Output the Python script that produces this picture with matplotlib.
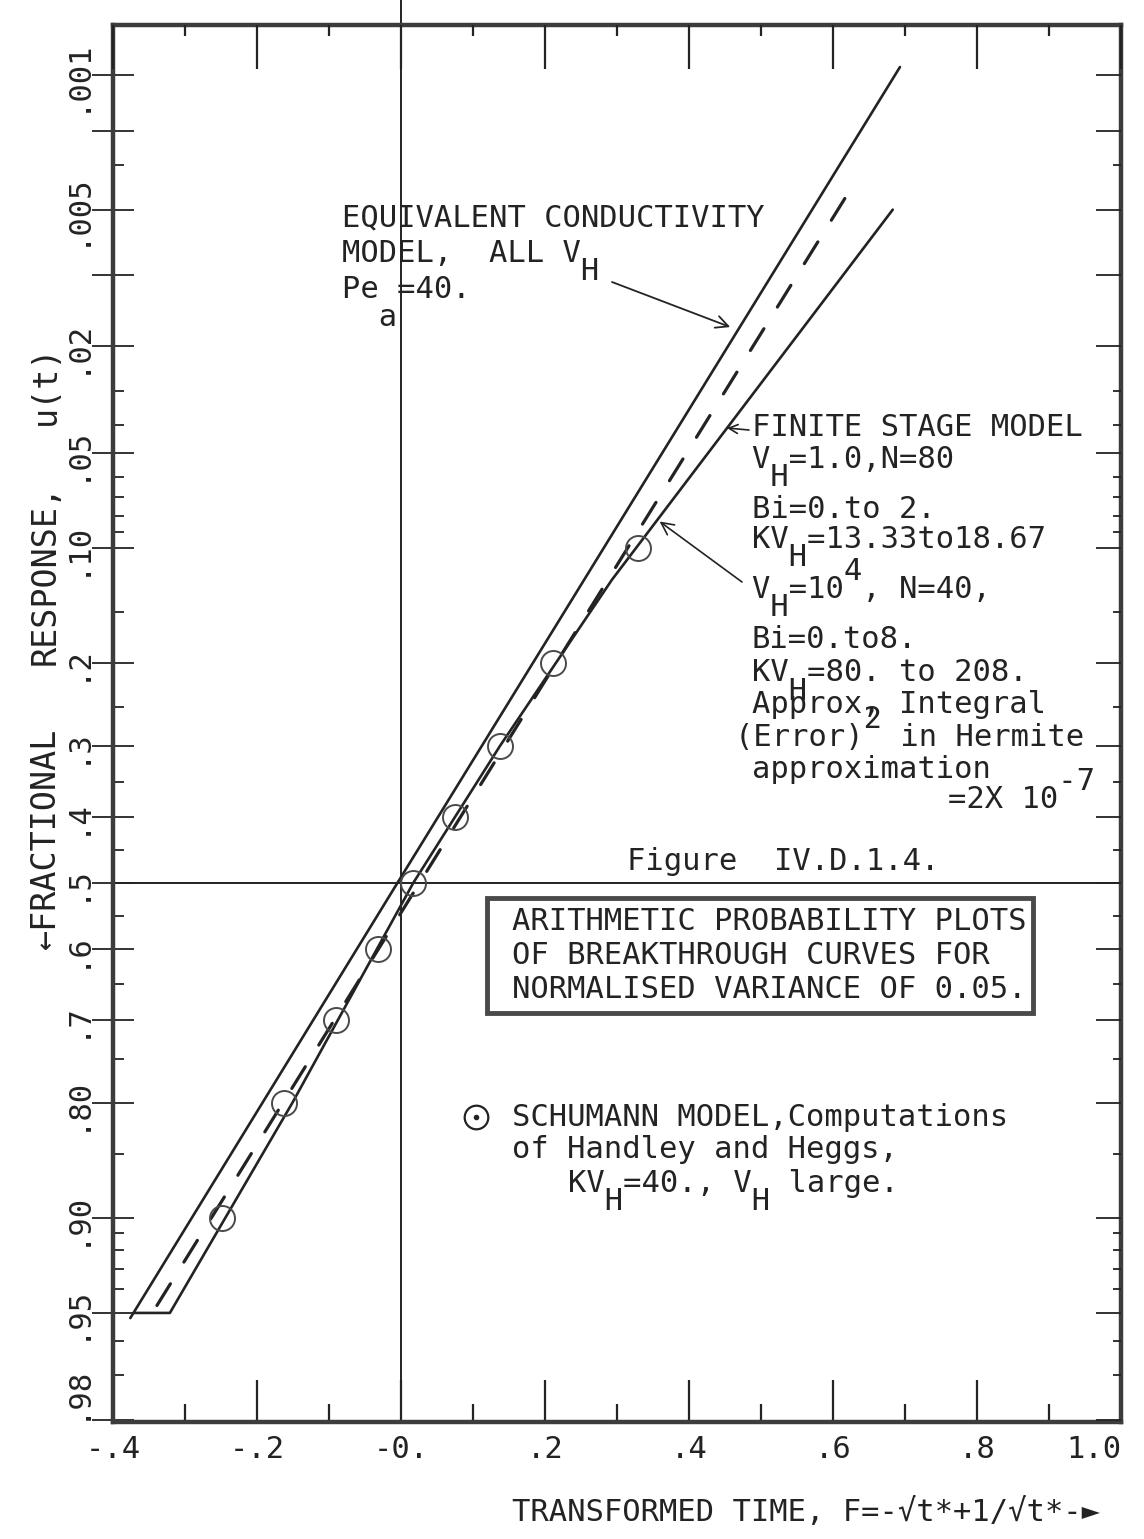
import numpy as np
import matplotlib
matplotlib.use('Agg')
import matplotlib.pyplot as plt
from matplotlib.patches import Rectangle
from statistics import NormalDist

plt.rcParams['font.family'] = ['DejaVu Sans Mono', 'DejaVu Sans']

W, H = 1144, 1539
INK = '#232323'
FS = 22

# equivalent conductivity model, all V_H, Pe_a = 40
cond_x = [-0.376, -0.005, 0.693]
cond_u = [0.952, 0.50, 0.0009]

# finite stage model, V_H = 10^4, N = 40 (short step along u = .95 at the start)
stage_x = [-0.37, -0.321, -0.151, 0.017, 0.1375, 0.293, 0.683]
stage_u = [0.95, 0.95, 0.80, 0.50, 0.30, 0.123, 0.005]

# finite stage model, V_H = 1.0, N = 80 (dashed)
stage80_x = [-0.339, 0.624]
stage80_u = [0.947, 0.004]

# Schumann model, computations of Handley and Heggs
schu_x = [-0.249, -0.1625, -0.090, -0.032, 0.017, 0.075, 0.1375, 0.211, 0.329]
schu_u = [0.90, 0.80, 0.70, 0.60, 0.50, 0.40, 0.30, 0.20, 0.10]

xticks = [-0.4, -0.2, 0.0, 0.2, 0.4, 0.6, 0.8, 1.0]
xtick_labels = ['-.4', '-.2', '-0.', '.2', '.4', '.6', '.8', '1.0']
xminor = [-0.3, -0.1, 0.1, 0.3, 0.5, 0.7, 0.9]

uticks = [0.001, 0.002, 0.005, 0.01, 0.02, 0.05, 0.10, 0.2, 0.3, 0.4,
          0.5, 0.6, 0.7, 0.80, 0.90, 0.95, 0.98]
utick_labels = ['.001', '', '.005', '', '.02', '.05', '.10', '.2', '.3', '.4',
                '.5', '.6', '.7', '.80', '.90', '.95', '.98']
uminor = [0.003, 0.03, 0.04, 0.06, 0.07, 0.08, 0.09, 0.15, 0.25, 0.35, 0.45,
          0.55, 0.65, 0.75, 0.85, 0.91, 0.92, 0.93, 0.94, 0.96, 0.97]

_nd = NormalDist()
_ppf = np.vectorize(_nd.inv_cdf, otypes=[float])
_cdf = np.vectorize(_nd.cdf, otypes=[float])


def probit(p):
    p = np.clip(np.asarray(p, dtype=float), 1e-12, 1 - 1e-12)
    return _ppf(p)


def inv_probit(z):
    return _cdf(np.asarray(z, dtype=float))


def on_line(xs, us, u):
    # point on a probability-paper curve at response u
    z = probit(us)[::-1]
    return float(np.interp(probit(u), z, np.asarray(xs)[::-1])), u


def px(x, y):
    return x / W, 1 - y / H


fig = plt.figure(figsize=(W / 100, H / 100), dpi=100)
fig.patch.set_facecolor('white')

ax = fig.add_axes([113 / W, 1 - 1422 / H, (1121 - 113) / W, (1422 - 25) / H])
ax.set_yscale('function', functions=(probit, inv_probit))
ax.set_xlim(-0.4, 1.0)
ax.set_ylim(0.9804, 0.000515)

axr = ax.twinx()
axr.set_yscale('function', functions=(probit, inv_probit))
axr.set_ylim(ax.get_ylim())
axt = ax.twiny()
axt.set_xlim(ax.get_xlim())

# probability paper rulings
ax.set_xticks(xticks)
ax.set_xticklabels(xtick_labels)
ax.set_xticks(xminor, minor=True)
ax.set_yticks(uticks)
ax.set_yticklabels(utick_labels, rotation=90, va='center')
ax.set_yticks(uminor, minor=True)
ax.get_xticklabels()[-1].set_ha('right')
ax.get_yticklabels()[-1].set_va('bottom')
ax.tick_params(axis='x', which='major', direction='in', length=30, width=1.6,
               pad=9, labelsize=FS, colors=INK)
ax.tick_params(axis='x', which='minor', direction='in', length=13, width=1.6, colors=INK)
ax.tick_params(axis='y', which='major', direction='inout', length=30, width=1.3,
               pad=1, labelsize=FS, colors=INK)
ax.tick_params(axis='y', which='minor', direction='in', length=8, width=1.3, colors=INK)

axr.set_yticks(uticks)
axr.set_yticklabels([])
axr.set_yticks(uminor, minor=True)
axr.tick_params(which='major', direction='in', length=18, width=1.3, colors=INK)
axr.tick_params(which='minor', direction='in', length=6, width=1.3, colors=INK)

axt.set_xticks(xticks)
axt.set_xticklabels([])
axt.set_xticks(xminor, minor=True)
axt.tick_params(which='major', direction='in', length=32, width=1.6, colors=INK)
axt.tick_params(which='minor', direction='in', length=8, width=1.6, colors=INK)

for a in (axr, axt):
    for s in a.spines.values():
        s.set_visible(False)
for s in ax.spines.values():
    s.set_linewidth(3.2)
    s.set_color('#3c3c3c')

# reference lines through F = 0 and u = .5
ax.axhline(0.5, color=INK, lw=1.4, zorder=1)
ax.plot([0, 0], [0, 1.018], transform=ax.get_xaxis_transform(), color=INK,
        lw=1.4, clip_on=False, zorder=1)

# model curves
ax.plot(cond_x, cond_u, color=INK, lw=1.9, solid_capstyle='round', zorder=3)
ax.plot(stage_x, stage_u, color=INK, lw=1.9, solid_capstyle='round',
        solid_joinstyle='round', zorder=3)
ax.plot(stage80_x, stage80_u, color=INK, lw=2.3, linestyle=(0, (8, 8)),
        dash_capstyle='round', zorder=3)
ax.plot(schu_x, schu_u, 'o', ms=18, mfc='none', mec='#4a4a4a', mew=1.4, zorder=4)


def typed(x, y, line, sub='', sup='', dsub=18, dsup=18, size=FS):
    kw = dict(ha='left', va='center', fontsize=size, color=INK)
    fig.text(*px(x, y), line, **kw)
    if sub:
        fig.text(*px(x, y + dsub), sub, **kw)
    if sup:
        fig.text(*px(x, y - dsup), sup, **kw)


# equivalent conductivity note
typed(342, 218, 'EQUIVALENT CONDUCTIVITY')
typed(342, 253, 'MODEL,  ALL V', sub='             H')
typed(342, 290, 'Pe =40.', sub='  a', dsub=27)
ax.annotate('', xy=on_line(cond_x, cond_u, 0.0172), xycoords='data',
            xytext=px(612, 282), textcoords='figure fraction',
            arrowprops=dict(arrowstyle='->', color=INK, lw=1.3, shrinkA=0,
                            shrinkB=6, mutation_scale=22))

# finite stage notes
typed(752, 428, 'FINITE STAGE MODEL')
typed(752, 460, 'V =1.0,N=80', sub=' H')
typed(752, 510, 'Bi=0.to 2.')
typed(752, 540, 'KV =13.33to18.67', sub='  H')
typed(752, 590, 'V =10 , N=40,', sub=' H', sup='     4')
typed(752, 640, 'Bi=0.to8.')
typed(752, 673, 'KV =80. to 208.', sub='  H')
typed(752, 705, 'Approx, Integral')
typed(735, 738, '(Error)  in Hermite', sup='       2')
typed(752, 770, 'approximation')
typed(948, 800, '=2X 10', sup='      -7')
ax.annotate('', xy=on_line(stage_x[3:], stage_u[3:], 0.0409), xycoords='data',
            xytext=px(749, 430), textcoords='figure fraction',
            arrowprops=dict(arrowstyle='->', color=INK, lw=1.2, shrinkA=0,
                            shrinkB=0, mutation_scale=16))
ax.annotate('', xy=on_line(stage_x[3:], stage_u[3:], 0.0824), xycoords='data',
            xytext=px(742, 582), textcoords='figure fraction',
            arrowprops=dict(arrowstyle='->', color=INK, lw=1.2, shrinkA=0,
                            shrinkB=2, mutation_scale=22))

# caption and boxed title
typed(627, 862, 'Figure  IV.D.1.4.')
fig.add_artist(Rectangle(px(487, 1013), (1033 - 487) / W, (1013 - 898) / H,
                         transform=fig.transFigure, fill=False, lw=3.5,
                         ec='#4a4a4a'))
typed(512, 922, 'ARITHMETIC PROBABILITY PLOTS')
typed(512, 956, 'OF BREAKTHROUGH CURVES FOR')
typed(512, 990, 'NORMALISED VARIANCE OF 0.05.')

# key for the circles
ax.plot(*px(476, 1117), 'o', ms=17, mfc='none', mec=INK, mew=1.6,
        transform=fig.transFigure, clip_on=False)
ax.plot(*px(476, 1117), 'o', ms=3, color=INK, transform=fig.transFigure,
        clip_on=False)
typed(512, 1117, 'SCHUMANN MODEL,Computations')
typed(512, 1150, 'of Handley and Heggs,')
typed(568, 1183, 'KV =40., V  large.', sub='  H       H')

# axis titles
typed(512, 1512, 'TRANSFORMED TIME, F=-√t*+1/√t*-►')
for y, word in [(838, '←FRACTIONAL'), (574, 'RESPONSE,'), (385, 'u(t)')]:
    fig.text(*px(45, y), word, rotation=90, ha='center', va='center',
             fontsize=24, color=INK)

fig.savefig('out.png', dpi=100, facecolor='white')
